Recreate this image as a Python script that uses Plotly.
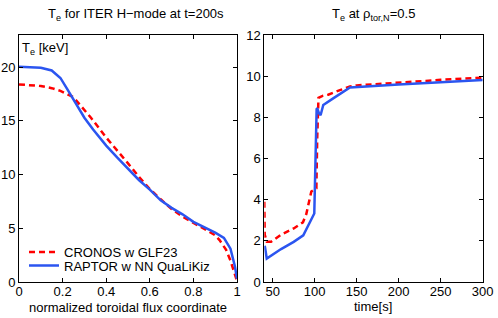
import plotly.graph_objects as go

# ---- Left panel: profiles at t=200s ----
rho_cronos = [0, 0.05, 0.1, 0.15, 0.19, 0.25, 0.3, 0.33, 0.4, 0.45, 0.5, 0.55, 0.6, 0.65,
              0.7, 0.75, 0.8, 0.85, 0.9, 0.92, 0.95, 0.97, 0.99, 1.0]
te_cronos = [18.4, 18.35, 18.25, 18.05, 17.8, 17.2, 16.0, 15.3, 13.45, 12.3, 11.05, 9.8, 8.65, 7.7,
             6.8, 6.1, 5.5, 4.9, 4.35, 3.9, 3.0, 2.0, 0.8, 0.1]

rho_raptor = [0, 0.05, 0.1, 0.15, 0.19, 0.22, 0.265, 0.3, 0.34, 0.4, 0.45, 0.5, 0.55, 0.6, 0.65,
              0.7, 0.75, 0.8, 0.85, 0.9, 0.94, 0.97, 0.99, 1.0]
te_raptor = [20.05, 20.0, 19.95, 19.7, 19.0, 18.0, 16.5, 15.3, 14.2, 12.7, 11.6, 10.5, 9.5, 8.6, 7.6,
             6.9, 6.3, 5.6, 5.1, 4.6, 4.1, 3.1, 1.5, 0.3]

# ---- Right panel: time traces at rho=0.5 ----
t_cronos = [40, 40.5, 43, 48, 60, 75, 86, 90, 96, 102, 103, 104.5, 110, 116, 130, 142, 150, 200, 250, 300]
te5_cronos = [3.9, 2.3, 1.95, 1.95, 2.3, 2.6, 2.9, 3.3, 4.4, 4.55, 7.0, 8.95, 9.05, 9.1, 9.32, 9.5,
              9.55, 9.7, 9.82, 9.93]

t_raptor = [40, 40.8, 42.9, 60, 75, 86.4, 99.5, 100.3, 101.5, 102.3, 103, 105, 107, 108.5, 110.2,
            122, 136, 142, 200, 250, 300]
te5_raptor = [1.75, 1.7, 1.14, 1.6, 1.95, 2.27, 3.33, 5.0, 7.6, 8.4, 8.45, 8.2, 8.1, 8.3, 8.6,
              8.92, 9.3, 9.45, 9.6, 9.7, 9.81]

left_xticks = [0, 0.2, 0.4, 0.6, 0.8, 1]
left_yticks = [0, 5, 10, 15, 20]
right_xticks = [50, 100, 150, 200, 250, 300]
right_yticks = [0, 2, 4, 6, 8, 10, 12]

RED = "#ff0000"
BLUE = "#2b55f0"
FONT = "Liberation Sans, Arial, sans-serif"
FS = 13
W, H = 498, 318

fig = go.Figure()
fig.add_trace(go.Scatter(x=rho_cronos, y=te_cronos, mode="lines", name="CRONOS w GLF23",
                         line=dict(color=RED, width=2.5, dash="6px,4px"),
                         xaxis="x", yaxis="y", legend="legend"))
fig.add_trace(go.Scatter(x=rho_raptor, y=te_raptor, mode="lines", name="RAPTOR w NN QuaLiKiz",
                         line=dict(color=BLUE, width=2.5),
                         xaxis="x", yaxis="y", legend="legend2"))
fig.add_trace(go.Scatter(x=t_cronos, y=te5_cronos, mode="lines", showlegend=False,
                         line=dict(color=RED, width=2.5, dash="6px,4px"),
                         xaxis="x2", yaxis="y2"))
fig.add_trace(go.Scatter(x=t_raptor, y=te5_raptor, mode="lines", showlegend=False,
                         line=dict(color=BLUE, width=2.5),
                         xaxis="x2", yaxis="y2"))

ydom = [1 - 282 / H, 1 - 35 / H]
axcommon = dict(showgrid=False, zeroline=False, showline=True, linecolor="black", linewidth=1,
                mirror="ticks", ticks="inside", ticklen=4, tickcolor="black", automargin=False,
                tickfont=dict(family=FONT, size=FS, color="black"))

fig.update_layout(
    width=W, height=H, margin=dict(l=0, r=0, t=0, b=0, autoexpand=False),
    paper_bgcolor="white", plot_bgcolor="white",
    font=dict(family=FONT, size=FS, color="black"),
    xaxis=dict(domain=[19 / W, 237 / W], range=[0, 1], tickvals=left_xticks,
               ticktext=["0", "0.2", "0.4", "0.6", "0.8", "1"], anchor="y",
               ticklabelstandoff=-3, **axcommon),
    yaxis=dict(domain=ydom, range=[0, 23], tickvals=left_yticks, anchor="x", **axcommon),
    xaxis2=dict(domain=[264.3 / W, 482.7 / W], range=[40, 300], tickvals=right_xticks,
                anchor="y2", ticklabelstandoff=-3, **axcommon),
    yaxis2=dict(domain=ydom, range=[0, 12], tickvals=right_yticks, anchor="x2", **axcommon),
    legend=dict(x=24 / W, y=1 - 252 / H, xanchor="left", yanchor="middle", bgcolor="rgba(0,0,0,0)",
                font=dict(family=FONT, size=FS), borderwidth=0),
    legend2=dict(x=24 / W, y=1 - 265.5 / H, xanchor="left", yanchor="middle", bgcolor="rgba(0,0,0,0)",
                 font=dict(family=FONT, size=FS), borderwidth=0),
    annotations=[
        dict(text="T<sub>e</sub> for ITER H\u2212mode at t=200s", x=136 / W, y=1 - 15 / H,
             xref="paper", yref="paper", xanchor="center", yanchor="middle", showarrow=False,
             font=dict(family=FONT, size=FS)),
        dict(text="T<sub>e</sub> at \u03c1<sub>tor,N</sub>=0.5", x=373 / W, y=1 - 15 / H,
             xref="paper", yref="paper", xanchor="center", yanchor="middle", showarrow=False,
             font=dict(family=FONT, size=FS)),
        dict(text="T<sub>e</sub> [keV]", x=20 / W, y=1 - 49 / H,
             xref="paper", yref="paper", xanchor="left", yanchor="middle", showarrow=False,
             font=dict(family=FONT, size=FS)),
        dict(text="normalized toroidal flux coordinate", x=128 / W, y=1 - 307 / H,
             xref="paper", yref="paper", xanchor="center", yanchor="middle", showarrow=False,
             font=dict(family=FONT, size=FS)),
        dict(text="time[s]", x=373 / W, y=1 - 306 / H,
             xref="paper", yref="paper", xanchor="center", yanchor="middle", showarrow=False,
             font=dict(family=FONT, size=FS)),
    ],
)

fig.write_html("out.html", config={"displayModeBar": False},
               post_script="document.body.style.margin='0';document.body.style.overflow='hidden';")
